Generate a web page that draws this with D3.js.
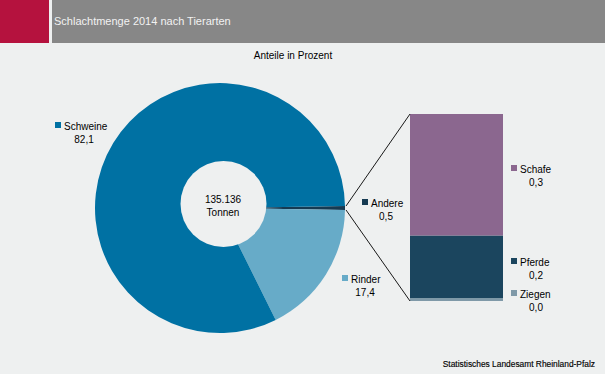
<!DOCTYPE html>
<html><head><meta charset="utf-8">
<script src="https://cdn.jsdelivr.net/npm/d3@7"></script>
<style>
html,body{margin:0;padding:0;background:#eef0f0;}
svg{display:block;font-family:"Liberation Sans",Arial,sans-serif;}
</style></head>
<body><svg id="c" width="605" height="374"></svg>
<script>
const title = "Schlachtmenge 2014 nach Tierarten";
const subtitle = "Anteile in Prozent";
const source = "Statistisches Landesamt Rheinland-Pfalz";
const totalLabel = ["135.136", "Tonnen"];

const pieCategories = ["Andere", "Rinder", "Schweine"];
const pieValues = [0.5, 17.4, 82.1];
const pieColors = ["#163a52", "#67abc8", "#0071a3"];

const barCategories = ["Ziegen", "Pferde", "Schafe"];
const barValues = [0.008, 0.17, 0.33];
const barColors = ["#7f99a8", "#1b455e", "#8b678f"];

const svg = d3.select("#c");
const fmt = v => d3.format(".1f")(v).replace(".", ",");

// background + header
svg.append("rect").attr("width",605).attr("height",374).attr("fill","#eef0f0");
svg.append("rect").attr("x",0).attr("y",0).attr("width",49).attr("height",43).attr("fill","#b5123e");
svg.append("rect").attr("x",52).attr("y",0).attr("width",553).attr("height",43).attr("fill","#878787");
svg.append("text").attr("x",54).attr("y",25).attr("font-size",11).attr("fill","#f2f2f2").text(title);
svg.append("text").attr("x",293).attr("y",59).attr("font-size",10).attr("text-anchor","middle").attr("fill","#000").text(subtitle);
svg.append("text").attr("x",595).attr("y",367).attr("font-size",8.4).attr("text-anchor","end").attr("fill","#000")
  .attr("stroke","#000").attr("stroke-width",0.15).text(source);

// pie
const cx = 220, cy = 208, R = 125;
const andereAngle = pieValues[0] / d3.sum(pieValues) * 2 * Math.PI;
const pie = d3.pie().sort(null).value(d => d)
  .startAngle(Math.PI/2 - andereAngle/2)
  .endAngle(Math.PI/2 - andereAngle/2 + 2*Math.PI);
const arcs = pie(pieValues);
const arc = d3.arc().innerRadius(0).outerRadius(R);
const g = svg.append("g").attr("transform", `translate(${cx},${cy})`);
g.selectAll("path").data(arcs).join("path")
  .attr("d", arc).attr("fill", (d,i) => pieColors[i]);

// center hole
svg.append("circle").attr("cx",223.5).attr("cy",204).attr("r",43).attr("fill","#eef0f0");
svg.append("text").attr("x",223).attr("y",203).attr("font-size",10).attr("text-anchor","middle").text(totalLabel[0]);
svg.append("text").attr("x",223).attr("y",216).attr("font-size",10).attr("text-anchor","middle").text(totalLabel[1]);

// bar of pie
const barX = 410, barW = 93;
const y = d3.scaleLinear().domain([0, d3.sum(barValues)]).range([301, 114]);
let acc = 0;
const stacks = barValues.map(v => { const s = {y0: acc, y1: acc + v}; acc += v; return s; });
svg.selectAll("rect.bar").data(stacks).join("rect").attr("class","bar")
  .attr("x", barX).attr("width", barW)
  .attr("y", d => y(d.y1)).attr("height", d => y(d.y0) - y(d.y1))
  .attr("fill", (d,i) => barColors[i]);

// connector lines
const a0 = arcs[0];
const p1 = [cx + R*Math.sin(a0.startAngle)+1, cy - R*Math.cos(a0.startAngle)];
const p2 = [cx + R*Math.sin(a0.endAngle)+1, cy - R*Math.cos(a0.endAngle)];
svg.append("line").attr("x1",p1[0]).attr("y1",p1[1]).attr("x2",barX).attr("y2",y(d3.sum(barValues)))
  .attr("stroke","#000").attr("stroke-width",0.9);
svg.append("line").attr("x1",p2[0]).attr("y1",p2[1]).attr("x2",barX).attr("y2",y(0))
  .attr("stroke","#000").attr("stroke-width",0.9);

// labels
function label(x, yb, name, val, color, cxv) {
  svg.append("rect").attr("x", x).attr("y", yb-8).attr("width",6).attr("height",6).attr("fill",color);
  svg.append("text").attr("x", x+9).attr("y", yb).attr("font-size",10).text(name);
  svg.append("text").attr("x", cxv).attr("y", yb+13).attr("font-size",10).attr("text-anchor","middle").text(fmt(val));
}
label(55, 130, pieCategories[2], pieValues[2], pieColors[2], 84);
label(342, 283, pieCategories[1], pieValues[1], pieColors[1], 365);
label(362, 207, pieCategories[0], pieValues[0], pieColors[0], 386);
label(511, 173, barCategories[2], barValues[2], barColors[2], 536);
label(511, 266, barCategories[1], barValues[1], barColors[1], 536);
label(511, 298, barCategories[0], barValues[0], barColors[0], 536);
</script></body></html>
